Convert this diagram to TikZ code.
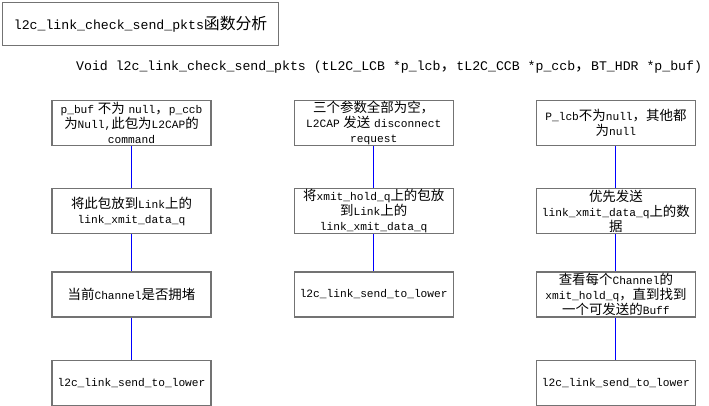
\documentclass[tikz,border=0pt]{standalone}
\usepackage{fontspec}
\setmainfont{Liberation Mono}
\newfontfamily\cjk[Scale=1.2]{Noto Sans CJK SC}
\newcommand\zh[1]{{\cjk #1}}
\newcommand\bigtxt{\fontsize{13.2}{16}\selectfont}
\newcommand\boxtxt{\fontsize{11.2}{15}\selectfont}
\usetikzlibrary{positioning}

\begin{document}
\begin{tikzpicture}[x=1pt, y=1pt,
  box/.style={draw=black!55, line width=1.2pt, minimum width=159pt, minimum height=45pt,
    text width=155pt, align=center, inner xsep=2pt, inner ysep=0pt, font=\boxtxt},
  link/.style={color=blue, line width=0.9pt}]
\useasboundingbox (0,0) rectangle (709,-406);
\node (t)[draw=black!55, line width=1.2pt, anchor=north west, minimum width=276pt, minimum height=43pt, font=\bigtxt] at (2,-2) {l2c\_link\_check\_send\_pkts\zh{函数分析}};
\node (s)[anchor=west, inner sep=0pt, font=\bigtxt] at (76,-67) {Void l2c\_link\_check\_send\_pkts (tL2C\_LCB *p\_lcb\zh{，}tL2C\_CCB *p\_ccb\zh{，}BT\_HDR *p\_buf)};
% left column
\node (1)[box] at (131.5,-123) {p\_buf \zh{不为} null\zh{，}p\_ccb\\ \zh{为}Null,\zh{此包为}L2CAP\zh{的}\\ command};
\node (2)[box, below=42pt of 1] {\zh{将此包放到}Link\zh{上的}\\ link\_xmit\_data\_q};
\node (3)[box, below=37pt of 2] {\zh{当前}Channel\zh{是否拥堵}};
\node (4)[box, below=42pt of 3] {l2c\_link\_send\_to\_lower};
% middle column
\node (5)[box, right=82pt of 1] {\zh{三个参数全部为空，}\\ L2CAP \zh{发送} disconnect\\ request};
\node (6)[box, below=42pt of 5] {\zh{将}xmit\_hold\_q\zh{上的包放}\\ \zh{到}Link\zh{上的}\\ link\_xmit\_data\_q};
\node (7)[box, below=37pt of 6] {l2c\_link\_send\_to\_lower};
% right column
\node (8)[box, right=82pt of 5] {P\_lcb\zh{不为}null\zh{，其他都}\\ \zh{为}null};
\node (9)[box, below=42pt of 8] {\zh{优先发送}\\ link\_xmit\_data\_q\zh{上的数}\\ \zh{据}};
\node (10)[box, below=37pt of 9] {\zh{查看每个}Channel\zh{的}\\ xmit\_hold\_q\zh{，直到找到}\\ \zh{一个可发送的}Buff};
\node (11)[box, below=42pt of 10] {l2c\_link\_send\_to\_lower};
\draw[link] (1) -- (2);
\draw[link] (2) -- (3);
\draw[link] (3) -- (4);
\draw[link] (5) -- (6);
\draw[link] (6) -- (7);
\draw[link] (8) -- (9);
\draw[link] (9) -- (10);
\draw[link] (10) -- (11);
\end{tikzpicture}
\end{document}
